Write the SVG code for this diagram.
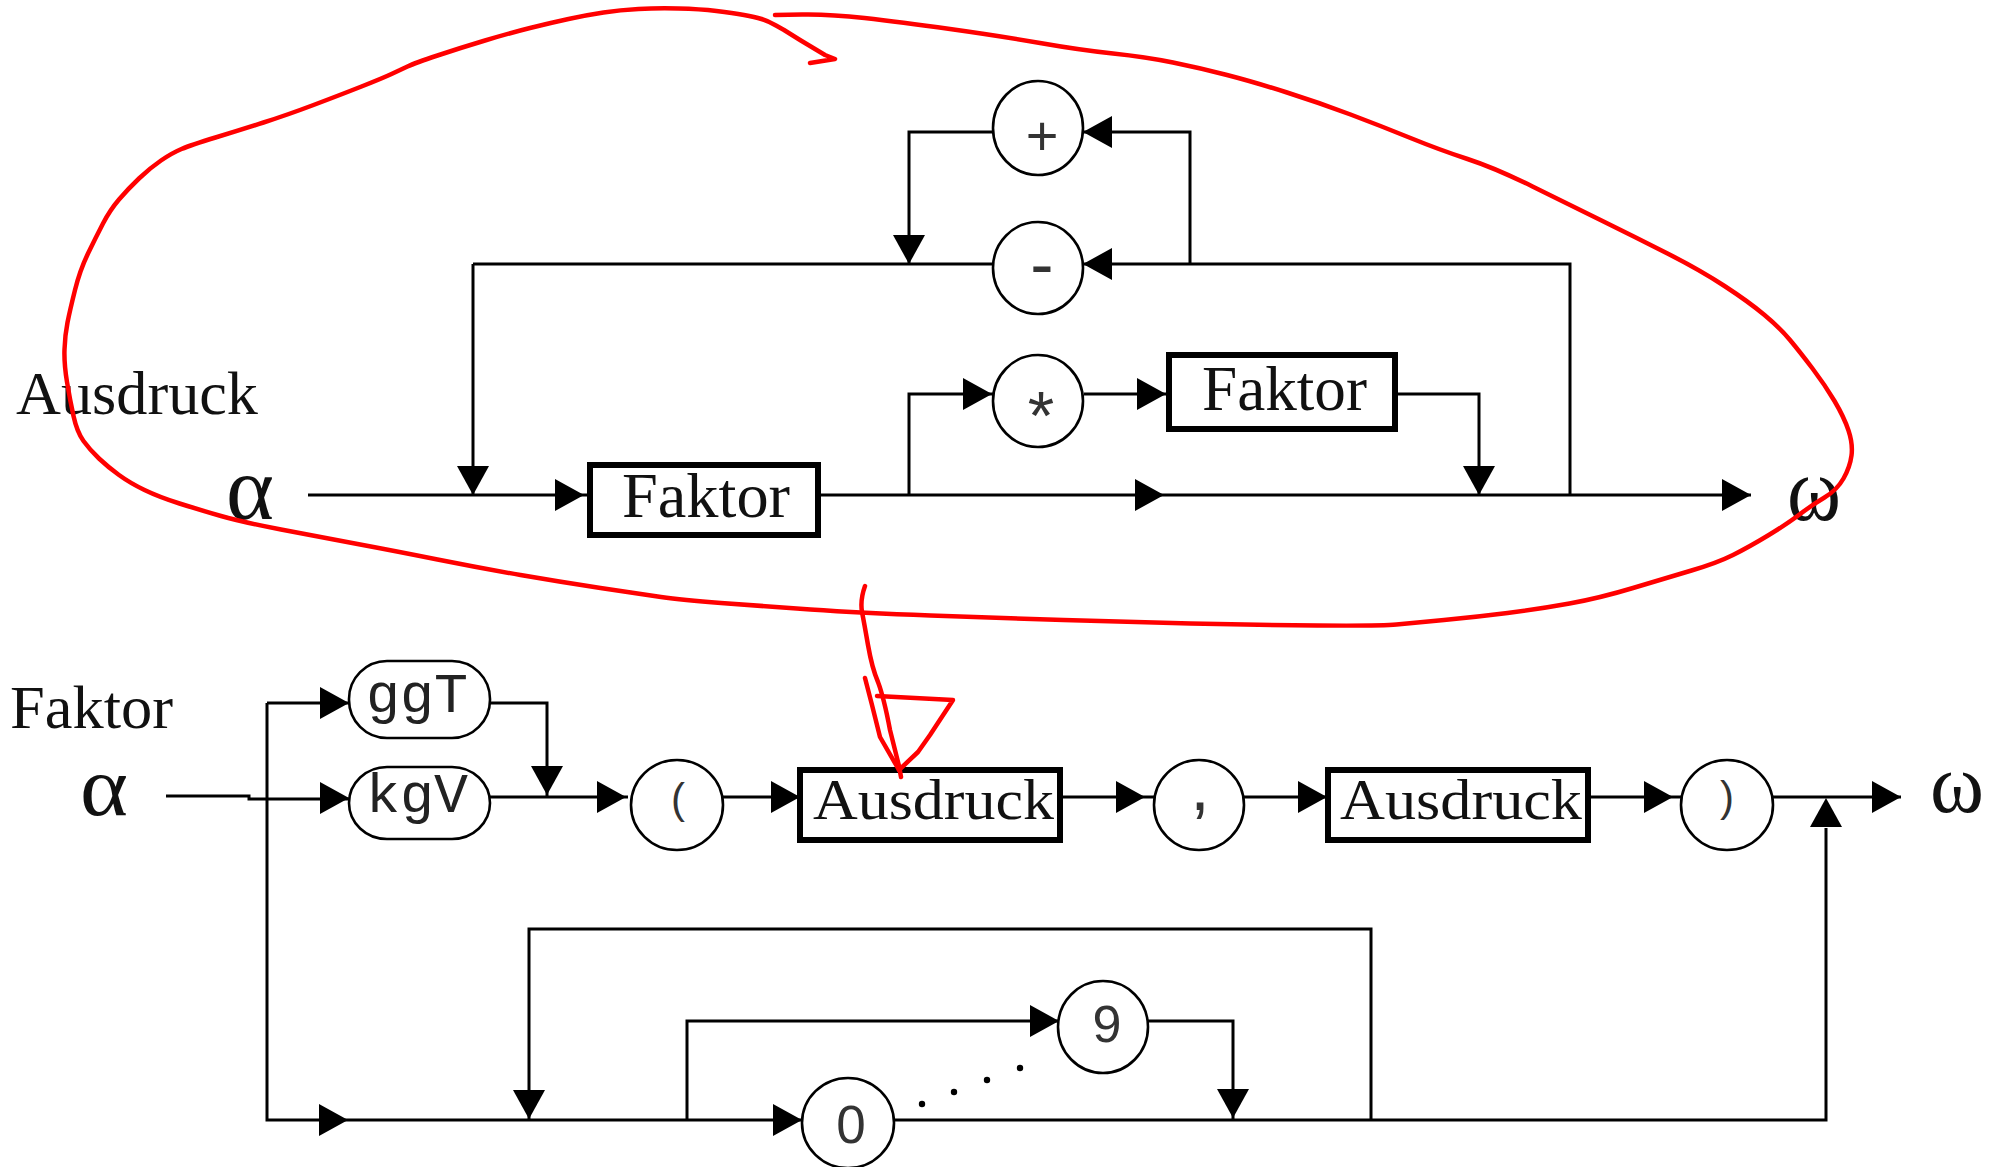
<svg xmlns="http://www.w3.org/2000/svg" xmlns:xlink="http://www.w3.org/1999/xlink" width="1995" height="1167" viewBox="0 0 1995 1167">
<style>
.ln{fill:none;stroke:#000;stroke-width:3}
.bx{fill:#fff;stroke:#000;stroke-width:6}
.ci{fill:#fff;stroke:#000;stroke-width:2.6}
.serif{font-family:"Liberation Serif","Times New Roman",serif;fill:#111}
.mono{font-family:"Liberation Mono","Courier New",monospace;fill:#222}
.sans{font-family:"Liberation Sans",Arial,sans-serif;fill:#333}
.red{fill:none;stroke:#f00;stroke-width:4.5;stroke-linejoin:round;stroke-linecap:round}
</style>
<defs>
<path id="ar" d="M0,0 L-29,-16 L-29,16 Z" fill="#000"/>
</defs>
<rect width="1995" height="1167" fill="#fff"/>

<g id="connectors">
<path class="ln" d="M308,495 H1751"/>
<path class="ln" d="M473,264 V495"/>
<path class="ln" d="M473,264 H993"/>
<path class="ln" d="M993,132 H909 V264"/>
<path class="ln" d="M1083,132 H1190 V264"/>
<path class="ln" d="M1083,264 H1570 V495"/>
<path class="ln" d="M909,495 V394 H993"/>
<path class="ln" d="M1084,394 H1166"/>
<path class="ln" d="M1398,394 H1479 V495"/>
<use xlink:href="#ar" transform="translate(473,495) rotate(90)"/>
<use xlink:href="#ar" transform="translate(584,495)"/>
<use xlink:href="#ar" transform="translate(1164,495)"/>
<use xlink:href="#ar" transform="translate(1479,495) rotate(90)"/>
<use xlink:href="#ar" transform="translate(1751,495)"/>
<use xlink:href="#ar" transform="translate(909,264) rotate(90)"/>
<use xlink:href="#ar" transform="translate(1083,132) rotate(180)"/>
<use xlink:href="#ar" transform="translate(1083,264) rotate(180)"/>
<use xlink:href="#ar" transform="translate(992,394)"/>
<use xlink:href="#ar" transform="translate(1166,394)"/>

<path class="ln" d="M166,796 H249 V799 H349"/>
<path class="ln" d="M267,703 V1120 H1826 V828"/>
<path class="ln" d="M267,703 H349"/>
<path class="ln" d="M490,703 H547 V797"/>
<path class="ln" d="M490,797 H628"/>
<path class="ln" d="M723,797 H797"/>
<path class="ln" d="M1063,797 H1154"/>
<path class="ln" d="M1244,797 H1325"/>
<path class="ln" d="M1591,797 H1681"/>
<path class="ln" d="M1773,797 H1901"/>
<path class="ln" d="M529,1120 V929 H1371 V1120"/>
<path class="ln" d="M687,1120 V1021 H1059"/>
<path class="ln" d="M1148,1021 H1233 V1120"/>
<use xlink:href="#ar" transform="translate(349,703)"/>
<use xlink:href="#ar" transform="translate(349,798)"/>
<use xlink:href="#ar" transform="translate(547,795) rotate(90)"/>
<use xlink:href="#ar" transform="translate(626,797)"/>
<use xlink:href="#ar" transform="translate(800,797)"/>
<use xlink:href="#ar" transform="translate(1145,797)"/>
<use xlink:href="#ar" transform="translate(1327,797)"/>
<use xlink:href="#ar" transform="translate(1673,797)"/>
<use xlink:href="#ar" transform="translate(1901,797)"/>
<use xlink:href="#ar" transform="translate(1826,798) rotate(-90)"/>
<use xlink:href="#ar" transform="translate(348,1120)"/>
<use xlink:href="#ar" transform="translate(529,1119) rotate(90)"/>
<use xlink:href="#ar" transform="translate(802,1120)"/>
<use xlink:href="#ar" transform="translate(1059,1021)"/>
<use xlink:href="#ar" transform="translate(1233,1118) rotate(90)"/>
</g>

<g id="ausdruck-label"><text class="serif" x="16" y="414" font-size="62" textLength="242" lengthAdjust="spacingAndGlyphs">Ausdruck</text></g>
<g id="alpha-top"><text class="serif" x="226" y="519" font-size="90" textLength="48" lengthAdjust="spacingAndGlyphs">α</text></g>
<g id="omega-top"><text class="serif" x="1787" y="520" font-size="90" textLength="54" lengthAdjust="spacingAndGlyphs">ω</text></g>
<g id="faktor1"><rect class="bx" x="590" y="465" width="228" height="70"/><text class="serif" x="622" y="517" font-size="63" textLength="168" lengthAdjust="spacingAndGlyphs">Faktor</text></g>
<g id="faktor2"><rect class="bx" x="1169" y="355" width="226" height="74"/><text class="serif" x="1202" y="410" font-size="63" textLength="165" lengthAdjust="spacingAndGlyphs">Faktor</text></g>
<g id="plus"><ellipse class="ci" cx="1038" cy="128" rx="45" ry="47"/><text class="sans" x="1042" y="155" font-size="56" text-anchor="middle">+</text></g>
<g id="minus"><ellipse class="ci" cx="1038" cy="268" rx="45" ry="46"/><text class="sans" x="1042" y="288" font-size="70" text-anchor="middle">-</text></g>
<g id="times"><ellipse class="ci" cx="1038" cy="401" rx="45" ry="46"/><text class="sans" x="1041" y="439" font-size="68" text-anchor="middle">*</text></g>

<g id="faktor-label"><text class="serif" x="10" y="728" font-size="62" textLength="163" lengthAdjust="spacingAndGlyphs">Faktor</text></g>
<g id="alpha-bottom"><text class="serif" x="80" y="815" font-size="85" textLength="48" lengthAdjust="spacingAndGlyphs">α</text></g>
<g id="omega-bottom"><text class="serif" x="1930" y="812" font-size="85" textLength="54" lengthAdjust="spacingAndGlyphs">ω</text></g>
<g id="ggT"><rect class="ci" x="349" y="661" width="141" height="77" rx="38" ry="38"/><text class="mono" x="366" y="712" font-size="56" textLength="102" lengthAdjust="spacingAndGlyphs">ggT</text></g>
<g id="kgV"><rect class="ci" x="349" y="767" width="141" height="72" rx="38" ry="36"/><text class="mono" x="366" y="812" font-size="56" textLength="102" lengthAdjust="spacingAndGlyphs">kgV</text></g>
<g id="lparen"><ellipse class="ci" cx="677" cy="805" rx="46" ry="45"/><text class="sans" x="678" y="813" font-size="42" text-anchor="middle">(</text></g>
<g id="ausdruck1"><rect class="bx" x="800" y="770" width="260" height="70"/><text class="serif" x="813" y="819" font-size="56" textLength="241" lengthAdjust="spacingAndGlyphs">Ausdruck</text></g>
<g id="comma"><ellipse class="ci" cx="1199" cy="805" rx="45" ry="45"/><text class="sans" x="1200" y="810" font-size="70" text-anchor="middle">,</text></g>
<g id="ausdruck2"><rect class="bx" x="1328" y="770" width="260" height="70"/><text class="serif" x="1340" y="819" font-size="56" textLength="242" lengthAdjust="spacingAndGlyphs">Ausdruck</text></g>
<g id="rparen"><ellipse class="ci" cx="1727" cy="805" rx="46" ry="45"/><text class="sans" x="1727" y="811" font-size="42" text-anchor="middle">)</text></g>
<g id="zero"><ellipse class="ci" cx="848" cy="1123" rx="46" ry="45"/><text class="sans" x="851" y="1143" font-size="53" text-anchor="middle">0</text></g>
<g id="nine"><ellipse class="ci" cx="1103" cy="1027" rx="45" ry="46"/><text class="sans" x="1107" y="1042" font-size="52" text-anchor="middle">9</text></g>
<g id="dots" fill="#000"><circle cx="922" cy="1104" r="3.2"/><circle cx="954" cy="1092" r="3.2"/><circle cx="987" cy="1080" r="3.2"/><circle cx="1020" cy="1068" r="3.2"/></g>

<g id="annotation">
<path class="red" d="M775,15 L802,14.5 Q829,14 864.5,18 Q900,22 950,29 Q1000,36 1040,43 Q1080,50 1113,53.5 Q1146,57 1173,62.5 Q1200,68 1227,75 Q1254,82 1287,92.5 Q1320,103 1350.5,114.5 Q1381,126 1410.5,138 Q1440,150 1467.5,159 Q1495,168 1532.5,186.5 Q1570,205 1602.5,221 Q1635,237 1667.5,253.5 Q1700,270 1724.5,286 Q1749,302 1764.5,315 Q1780,328 1790,340 Q1800,352 1812.5,368.5 Q1825,385 1834.5,401 Q1844,417 1848.5,430.5 Q1853,444 1851.5,455.5 Q1850,467 1843.5,478.5 Q1837,490 1824.5,497.5 Q1812,505 1799.5,514.5 Q1787,524 1768,535.5 Q1749,547 1733,555 Q1717,563 1691.5,570.5 Q1666,578 1633,588 Q1600,598 1569.5,603.5 Q1539,609 1507.5,613 Q1476,617 1444,620 Q1412,623 1396.5,624.5 Q1381,626 1317.5,625.5 Q1254,625 1190.5,623.5 Q1127,622 1063.5,620 Q1000,618 930.5,615.5 Q861,613 810.5,609.5 Q760,606 721,603 Q682,600 661,597 Q640,594 600.5,588 Q561,582 520.5,575 Q480,568 437.5,559.5 Q395,551 357.5,544 Q320,537 281,529.5 Q242,522 221,516 Q200,510 179.5,503.5 Q159,497 144.5,490 Q130,483 119,475 Q108,467 99,458.5 Q90,450 83.5,441 Q77,432 73.5,416 Q70,400 67,382 Q64,364 64.5,349.5 Q65,335 67.5,322.5 Q70,310 75,290 Q80,270 88,253.5 Q96,237 103,223.5 Q110,210 119,199.5 Q128,189 139,178.5 Q150,168 161,160.5 Q172,153 181.5,149 Q191,145 215.5,137.5 Q240,130 263.5,122.5 Q287,115 313.5,105 Q340,95 361.5,86.5 Q383,78 391.5,74 Q400,70 407.5,66.5 Q415,63 437.5,55.5 Q460,48 485,40.5 Q510,33 530,28 Q550,23 568.5,19 Q587,15 603.5,12.5 Q620,10 638.5,9 Q657,8 678.5,8.5 Q700,9 716.5,11 Q733,13 744,15 Q755,17 761.5,19 Q768,21 776,25.5 L784,30 L800,40 L810,46 L825,55 L835,59 L810,63"/>
<path class="red" d="M865,586 Q860,600 862,612 Q864,622 868,645 Q872,668 878,682 Q884,698 890,730 L899,766 L901,777"/>
<polyline class="red" points="865,678 872,705 880,737 899,770"/>
<polyline class="red" points="877,696 953,700 930,735 918,752 899,770"/>
</g>
</svg>
